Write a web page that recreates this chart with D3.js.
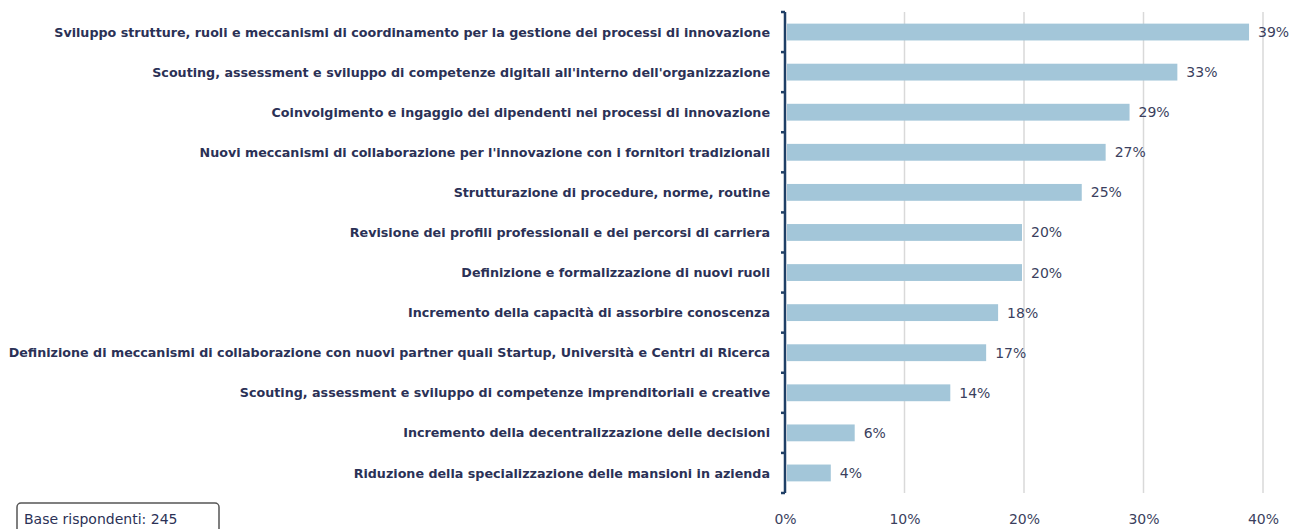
<!DOCTYPE html>
<html>
<head>
<meta charset="utf-8">
<script src="https://cdn.jsdelivr.net/npm/d3@7"></script>
<style>
  body { margin: 0; background: #fff; }
  text { font-family: "DejaVu Sans", sans-serif; }
</style>
</head>
<body>
<div id="chart"></div>
<script>
var categories = [
  "Sviluppo strutture, ruoli e meccanismi di coordinamento per la gestione dei processi di innovazione",
  "Scouting, assessment e sviluppo di competenze digitali all'interno dell'organizzazione",
  "Coinvolgimento e ingaggio dei dipendenti nei processi di innovazione",
  "Nuovi meccanismi di collaborazione per l'innovazione con i fornitori tradizionali",
  "Strutturazione di procedure, norme, routine",
  "Revisione dei profili professionali e dei percorsi di carriera",
  "Definizione e formalizzazione di nuovi ruoli",
  "Incremento della capacità di assorbire conoscenza",
  "Definizione di meccanismi di collaborazione con nuovi partner quali Startup, Università e Centri di Ricerca",
  "Scouting, assessment e sviluppo di competenze imprenditoriali e creative",
  "Incremento della decentralizzazione delle decisioni",
  "Riduzione della specializzazione delle mansioni in azienda"
];
var values = [39, 33, 29, 27, 25, 20, 20, 18, 17, 14, 6, 4];
var xTicks = [0, 10, 20, 30, 40];
var baseNote = "Base rispondenti: 245";

var svgWidth = 1296;
var svgHeight = 529;
var margin = { top: 12, right: 33, bottom: 36, left: 785 };
var width = svgWidth - margin.left - margin.right;
var height = svgHeight - margin.top - margin.bottom;

var svg = d3.select("#chart")
  .append("svg")
  .attr("width", svgWidth)
  .attr("height", svgHeight);

var chartGroup = svg.append("g")
  .attr("transform", `translate(${margin.left}, ${margin.top})`);

var x = d3.scaleLinear().domain([0, 40]).range([0, 478]);
var y = d3.scaleBand().domain(categories).range([0, height]).paddingInner(0.58).paddingOuter(0.29);

// gridlines
chartGroup.selectAll(".grid")
  .data(xTicks.slice(1))
  .enter()
  .append("line")
  .attr("x1", d => x(d))
  .attr("x2", d => x(d))
  .attr("y1", 0)
  .attr("y2", height)
  .attr("stroke", "#d9d9d9")
  .attr("stroke-width", 1.5);

// bars
chartGroup.selectAll("rect")
  .data(values)
  .enter()
  .append("rect")
  .attr("x", 2)
  .attr("y", (d, i) => y(categories[i]))
  .attr("width", d => x(d) - 4)
  .attr("height", y.bandwidth())
  .attr("fill", "#a3c6d9");

// value labels
chartGroup.selectAll(".val")
  .data(values)
  .enter()
  .append("text")
  .attr("x", d => x(d) + 7)
  .attr("y", (d, i) => y(categories[i]) + y.bandwidth() / 2)
  .attr("dy", "0.36em")
  .attr("font-size", 14)
  .attr("fill", "#3b3f5e")
  .text(d => d + "%");

// category axis
var step = height / categories.length;
chartGroup.append("line")
  .attr("x1", 0).attr("x2", 0)
  .attr("y1", 0).attr("y2", height)
  .attr("stroke", "#1f3f66")
  .attr("stroke-width", 2.5);

chartGroup.selectAll(".tick")
  .data(d3.range(categories.length + 1))
  .enter()
  .append("line")
  .attr("x1", -4).attr("x2", 0)
  .attr("y1", d => d * step).attr("y2", d => d * step)
  .attr("stroke", "#1f3f66")
  .attr("stroke-width", 2.5);

chartGroup.selectAll(".cat")
  .data(categories)
  .enter()
  .append("text")
  .attr("x", -15)
  .attr("y", d => y(d) + y.bandwidth() / 2)
  .attr("dy", "0.36em")
  .attr("text-anchor", "end")
  .attr("font-size", 12.7)
  .attr("font-weight", "bold")
  .attr("fill", "#2b3156")
  .text(d => d);

// x axis
var bottomAxis = d3.axisBottom(x)
  .tickValues(xTicks)
  .tickFormat(d => d + "%")
  .tickSize(0)
  .tickPadding(21);

var xAxisGroup = chartGroup.append("g")
  .attr("transform", `translate(0, ${height})`)
  .call(bottomAxis);
xAxisGroup.select(".domain").remove();
xAxisGroup.selectAll("text")
  .attr("font-size", 14)
  .attr("font-family", "DejaVu Sans, sans-serif")
  .attr("fill", "#3b3f5e");

// base note box
svg.append("rect")
  .attr("x", 17).attr("y", 503)
  .attr("width", 202).attr("height", 30)
  .attr("rx", 4)
  .attr("fill", "#fff")
  .attr("stroke", "#555")
  .attr("stroke-width", 1.5);

svg.append("text")
  .attr("x", 24).attr("y", 524)
  .attr("font-size", 14)
  .attr("fill", "#2b3156")
  .text(baseNote);
</script>
</body>
</html>
